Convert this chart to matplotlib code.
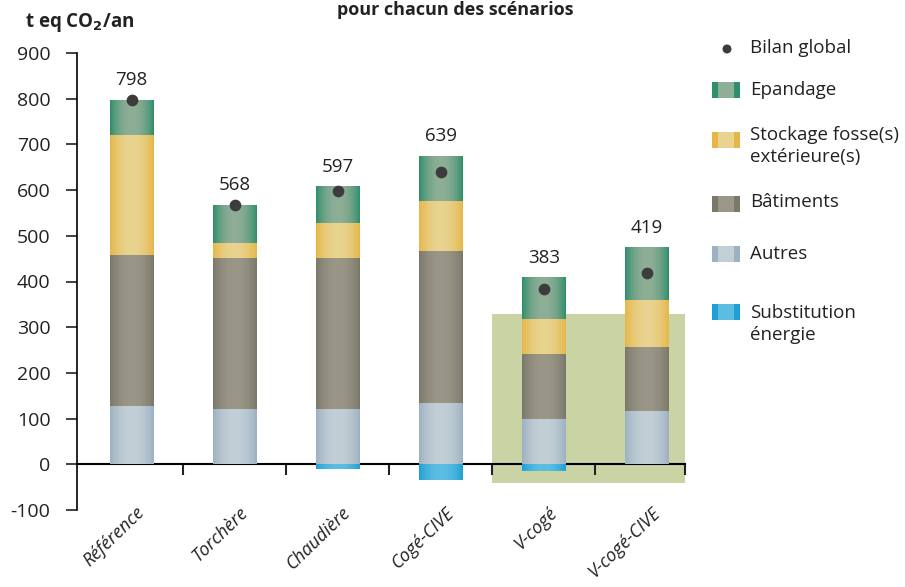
import matplotlib
matplotlib.use("Agg")
import matplotlib.pyplot as plt
from matplotlib.patches import Rectangle, Ellipse
from matplotlib.colors import to_rgb
import numpy as np

plt.rcParams['font.family'] = ['Open Sans', 'DejaVu Sans']
plt.rcParams['axes.unicode_minus'] = False

# ---------------- data ----------------
categories = ["Référence", "Torchère", "Chaudière", "Cogé-CIVE", "V-cogé", "V-cogé-CIVE"]
autres       = [127, 121, 121, 134, 100, 116]
batiments    = [331, 331, 331, 333, 141, 141]
stockage     = [263, 33, 76, 110, 77, 103]
epandage     = [75, 83, 79, 97, 90, 114]
substitution = [0, 0, -10, -35, -15, 0]
bilan_global = [798, 568, 597, 639, 383, 419]

# (edge colour, centre colour) for the cylinder-like shading
shades = {"epandage": ("#2f8e6c", "#8fae96"),
          "stockage": ("#e6b648", "#e8d38f"),
          "batiments": ("#7b786a", "#9a9788"),
          "autres": ("#9cb1c2", "#c3cfd6"),
          "substitution": ("#1f9fd3", "#5cbde3")}
dot_color = "#3c3c3c"

W, H = 905, 587
fig = plt.figure(figsize=(W / 100, H / 100), dpi=100)
ax = fig.add_axes([77 / W, 1 - 510 / H, 608 / W, (510 - 53) / H])

x = np.arange(len(categories))
bw = 0.42


def shaded(bars, key):
    edge, centre = np.array(to_rgb(shades[key][0])), np.array(to_rgb(shades[key][1]))
    t = np.linspace(0, 1, 60)
    w = np.sin(np.pi * t) ** 0.8
    grad = edge[None, :] * (1 - w[:, None]) + centre[None, :] * w[:, None]
    img = grad[None, :, :]
    for p in bars:
        x0, y0 = p.get_x(), p.get_y()
        x1, y1 = x0 + p.get_width(), y0 + p.get_height()
        if abs(y1 - y0) < 1e-9:
            continue
        ax.imshow(img, extent=[x0, x1, min(y0, y1), max(y0, y1)], aspect="auto",
                  interpolation="bilinear", zorder=3.2)


# background green (photo of grass behind V-cogé scenarios)
ax.add_patch(Rectangle((3.5, -42), 1.89, 370, facecolor="#c9d3a4", edgecolor="none", zorder=0.5))

bottom = np.zeros(len(categories))
for vals, key in [(autres, "autres"), (batiments, "batiments"), (stockage, "stockage"), (epandage, "epandage")]:
    b = ax.bar(x, vals, bw, bottom=bottom, color=shades[key][1], zorder=3, linewidth=0)
    shaded(b, key)
    bottom = bottom + np.array(vals)
b = ax.bar(x, substitution, bw, color=shades["substitution"][1], zorder=3, linewidth=0)
shaded(b, "substitution")

ax.scatter(x, bilan_global, s=55, color=dot_color, zorder=5)

for xi, top, lab in zip(x, bottom, bilan_global):
    ax.annotate(str(lab), (xi, top), xytext=(0, 8), textcoords="offset points",
                ha="center", va="bottom", fontsize=13.5, color="#222222")

# axes styling
ax.set_xlim(-0.53, 5.37)
ax.set_ylim(-100, 900)
ax.set_yticks(np.arange(-100, 901, 100))
ax.tick_params(axis="y", direction="out", length=8, width=1.2, pad=11, labelsize=14,
               colors="#222222")
ax.set_xticks([0.5, 1.5, 2.5, 3.5, 4.5, 5.37])
ax.set_xticklabels([])
ax.tick_params(axis="x", direction="out", length=8, width=1.5, colors="#222222")
for s in ["top", "right"]:
    ax.spines[s].set_visible(False)
ax.spines["bottom"].set_position(("data", 0))
ax.spines["bottom"].set_linewidth(1.5)
ax.spines["left"].set_linewidth(1.2)
ax.spines["bottom"].set_zorder(2.8)

for xi, cat in zip(x, categories):
    ax.text(xi + 0.04, -86, cat, rotation=44, rotation_mode="anchor", ha="right", va="top",
            fontsize=13, style="italic", color="#222222")

# y-axis unit and title
fig.text(25 / W, 1 - 22 / H, r"t eq CO$_\mathbf{2}$/an", fontsize=13.5, fontweight="bold",
         ha="left", va="center", color="#222222")
fig.text(455 / W, 1 - 1 / H, "pour chacun des scénarios", fontsize=13, fontweight="bold",
         ha="center", va="top", color="#222222")

# legend (manual)
fig.add_artist(Ellipse((727 / W, 1 - 49 / H), 9 / W, 9 / H, transform=fig.transFigure,
                       facecolor=dot_color, edgecolor="none"))
fig.text(750 / W, 1 - 48 / H, "Bilan global", fontsize=13.5, ha="left", va="center", color="#222222")
legend_items = [("epandage", "Epandage", 90, 90),
                ("stockage", "Stockage fosse(s)\nextérieure(s)", 140, 146),
                ("batiments", "Bâtiments", 204, 202),
                ("autres", "Autres", 254, 254),
                ("substitution", "Substitution\nénergie", 312, 324)]
for key, label, sy, ty in legend_items:
    fig.add_artist(Rectangle((712 / W, 1 - (sy + 8) / H), 28 / W, 16 / H, transform=fig.transFigure,
                             facecolor=shades[key][0], edgecolor="none"))
    fig.add_artist(Rectangle((718 / W, 1 - (sy + 8) / H), 16 / W, 16 / H, transform=fig.transFigure,
                             facecolor=shades[key][1], edgecolor="none"))
    fig.text(750 / W, 1 - ty / H, label, fontsize=13.5, ha="left", va="center",
             color="#222222", linespacing=1.3)

fig.savefig("out.png", dpi=100)
